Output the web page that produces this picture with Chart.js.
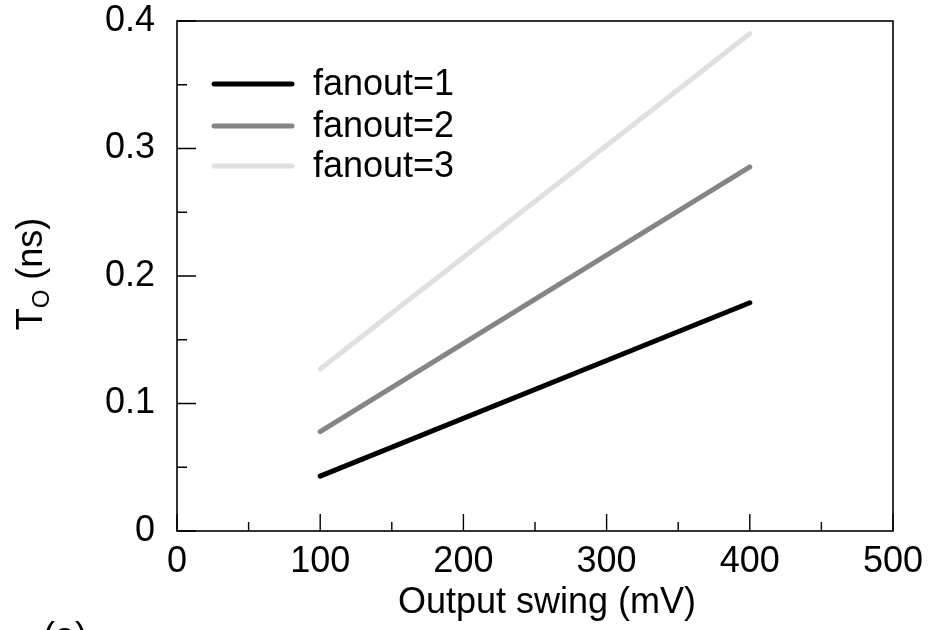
<!DOCTYPE html>
<html>
<head>
<meta charset="utf-8">
<script src="https://cdn.jsdelivr.net/npm/chart.js@4.4.1/dist/chart.umd.min.js"></script>
<style>
  html, body { margin: 0; padding: 0; background: #ffffff; }
  #wrap { width: 931px; height: 630px; position: relative; }
</style>
</head>
<body>
<div id="wrap"><canvas id="c" width="931" height="630"></canvas></div>
<script>
// Output swing (mV) at the two ends of each sweep
const swing = [100, 400];
// Delay T_O (ns) per fanout
const fanout1 = [0.043, 0.179];
const fanout2 = [0.078, 0.2855];
const fanout3 = [0.127, 0.390];
const seriesNames = ['fanout=1', 'fanout=2', 'fanout=3'];
const seriesColors = ['#000000', '#858585', '#e0e0e0'];

// Axis ticks
const xMajor = [0, 100, 200, 300, 400, 500];
const xMinor = [50, 150, 250, 350, 450];
const yMajor = [0, 0.1, 0.2, 0.3, 0.4];
const yMinor = [0.05, 0.15, 0.25, 0.35];

const FONT = '"Liberation Sans", Arial, Helvetica, sans-serif';
const FS = 36;

function pts(ys) { return swing.map((x, i) => ({ x: x, y: ys[i] })); }

const datasets = [fanout1, fanout2, fanout3].map((ys, i) => ({
  label: seriesNames[i],
  data: pts(ys),
  borderColor: seriesColors[i],
  backgroundColor: seriesColors[i],
  borderWidth: 5,
  borderCapStyle: 'round',
  pointRadius: 0,
  showLine: true,
  fill: false
}));

// Frame, inward tick marks, legend and axis titles
const decor = {
  id: 'decor',
  afterDraw(chart) {
    const ctx = chart.ctx;
    const a = chart.chartArea;
    const xs = chart.scales.x, ys = chart.scales.y;
    ctx.save();
    ctx.strokeStyle = '#000';
    ctx.lineWidth = 1.6;
    ctx.lineCap = 'butt';
    ctx.strokeRect(a.left, a.top, a.right - a.left, a.bottom - a.top);

    ctx.lineWidth = 1.4;
    ctx.beginPath();
    xMajor.forEach(v => { const p = xs.getPixelForValue(v); ctx.moveTo(p, a.bottom); ctx.lineTo(p, a.bottom - 17); });
    xMinor.forEach(v => { const p = xs.getPixelForValue(v); ctx.moveTo(p, a.bottom); ctx.lineTo(p, a.bottom - 9); });
    yMajor.forEach(v => { const p = ys.getPixelForValue(v); ctx.moveTo(a.left, p); ctx.lineTo(a.left + 19, p); });
    yMinor.forEach(v => { const p = ys.getPixelForValue(v); ctx.moveTo(a.left, p); ctx.lineTo(a.left + 10, p); });
    ctx.stroke();

    // legend
    const legY = [84, 126, 166];
    ctx.font = FS + 'px ' + FONT;
    ctx.textBaseline = 'middle';
    ctx.textAlign = 'left';
    ctx.lineCap = 'round';
    seriesNames.forEach((name, i) => {
      ctx.strokeStyle = seriesColors[i];
      ctx.lineWidth = 5;
      ctx.beginPath();
      ctx.moveTo(214, legY[i]);
      ctx.lineTo(292, legY[i]);
      ctx.stroke();
      ctx.fillStyle = '#000';
      ctx.fillText(name, 313, legY[i] + 1);
    });

    // x title
    ctx.fillStyle = '#000';
    ctx.textAlign = 'center';
    ctx.textBaseline = 'alphabetic';
    ctx.fillText('Output swing (mV)', 547, 613);

    // y title with subscript
    ctx.save();
    ctx.translate(42, 274);
    ctx.rotate(-Math.PI / 2);
    const main = FS + 'px ' + FONT, sub = '24px ' + FONT;
    ctx.font = main; const wT = ctx.measureText('T').width;
    ctx.font = sub; const wO = ctx.measureText('O').width;
    ctx.font = main; const wR = ctx.measureText(' (ns)').width;
    let x0 = -(wT + wO + wR) / 2;
    ctx.textAlign = 'left';
    ctx.font = main; ctx.fillText('T', x0, 0); x0 += wT;
    ctx.font = sub; ctx.fillText('O', x0, 7); x0 += wO;
    ctx.font = main; ctx.fillText(' (ns)', x0, 0);
    ctx.restore();

    // panel tag
    ctx.font = FS + 'px ' + FONT;
    ctx.textAlign = 'left';
    ctx.fillText('(a)', 43, 648);
    ctx.restore();
  }
};

Chart.defaults.color = '#000';
Chart.defaults.font.family = FONT;

new Chart(document.getElementById('c'), {
  type: 'scatter',
  data: { datasets: datasets },
  options: {
    responsive: false,
    animation: false,
    events: [],
    layout: { padding: { top: 21, right: 38, left: 0, bottom: 0 } },
    plugins: { legend: { display: false }, tooltip: { enabled: false } },
    scales: {
      x: {
        type: 'linear', min: 0, max: 500,
        afterBuildTicks: s => { s.ticks = xMajor.map(v => ({ value: v })); },
        afterFit: s => { s.height = 99; s.paddingLeft = 0; s.paddingRight = 0; },
        grid: { display: false, drawTicks: false },
        border: { display: false },
        ticks: { padding: 9, maxRotation: 0, autoSkip: false, font: { size: FS }, color: '#000' }
      },
      y: {
        type: 'linear', min: 0, max: 0.4,
        afterBuildTicks: s => { s.ticks = yMajor.map(v => ({ value: v })); },
        afterFit: s => { s.width = 177; s.paddingTop = 0; s.paddingBottom = 0; },
        grid: { display: false, drawTicks: false },
        border: { display: false },
        ticks: { padding: 22, autoSkip: false, font: { size: FS }, color: '#000' }
      }
    }
  },
  plugins: [decor]
});
</script>
</body>
</html>
